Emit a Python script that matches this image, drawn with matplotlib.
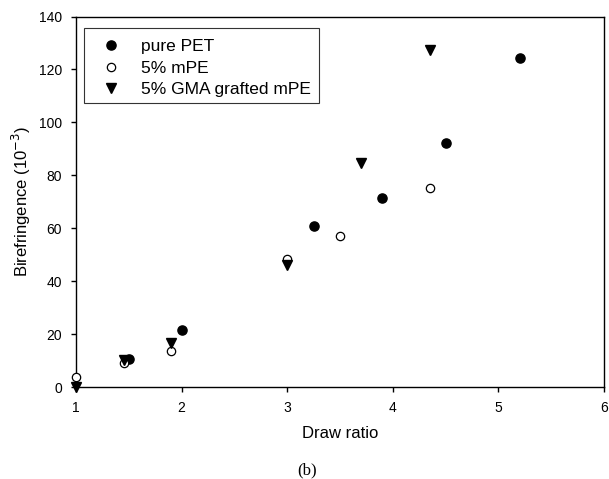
import matplotlib
matplotlib.use("Agg")
import matplotlib.pyplot as plt
from matplotlib.patches import Rectangle

plt.rcParams['font.family'] = ['Liberation Sans', 'DejaVu Sans']

pet_x = [1.5, 2.0, 3.25, 3.9, 4.5, 5.2]
pet_y = [10.7, 21.6, 61.0, 71.6, 92.4, 124.4]
mpe_x = [1.0, 1.45, 1.9, 3.0, 3.5, 4.35]
mpe_y = [3.8, 9.0, 13.8, 48.3, 57.2, 75.2]
gma_x = [1.0, 1.45, 1.9, 3.0, 3.7, 4.35]
gma_y = [0.0, 10.3, 16.6, 46.0, 84.5, 127.5]

labels = ['pure PET', '5% mPE', '5% GMA grafted mPE']
xticks = [1, 2, 3, 4, 5, 6]
yticks = [0, 20, 40, 60, 80, 100, 120, 140]

W, H = 609, 479
fig = plt.figure(figsize=(W/100, H/100), dpi=100)
ax = fig.add_axes([76/W, 1-387.3/H, (604-76)/W, (387.3-16.5)/H])

ax.plot(pet_x, pet_y, 'o', ms=6.6, mfc='black', mec='black', ls='none', label=labels[0], clip_on=False, zorder=3)
ax.plot(mpe_x, mpe_y, 'o', ms=6.0, mfc='white', mec='black', mew=0.9, ls='none', label=labels[1], clip_on=False, zorder=3)
ax.plot(gma_x, gma_y, 'v', ms=7, mfc='black', mec='black', ls='none', label=labels[2], clip_on=False, zorder=4)

ax.set_xlim(1, 6)
ax.set_ylim(0, 140)
ax.set_xticks(xticks)
ax.set_yticks(yticks)
ax.tick_params(direction='out', length=3.6, width=1, labelsize=10, pad=6.5, top=False, right=False)
for s in ax.spines.values():
    s.set_linewidth(1)

ax.set_xlabel('Draw ratio', fontsize=12, labelpad=8)
ax.set_ylabel('Birefringence (10$^{-3}$)', fontsize=12, labelpad=4)

leg = ax.legend(loc='upper left', bbox_to_anchor=(84.3/W, 1-31.3/H), bbox_transform=fig.transFigure,
                borderaxespad=0, fontsize=12.5, frameon=False, handletextpad=0.66,
                labelspacing=0.36, borderpad=0.45, handlelength=2.14)
fig.patches.append(Rectangle((84.3/W, 1-102.5/H), (319.3-84.3)/W, (102.5-28.3)/H,
                             transform=fig.transFigure, fill=False, edgecolor='#333333', lw=0.8, zorder=5))

fig.text(307/W, 1-470/H, '(b)', ha='center', va='center', fontsize=12, family=['Liberation Serif'])

fig.savefig('out.png', dpi=100)
